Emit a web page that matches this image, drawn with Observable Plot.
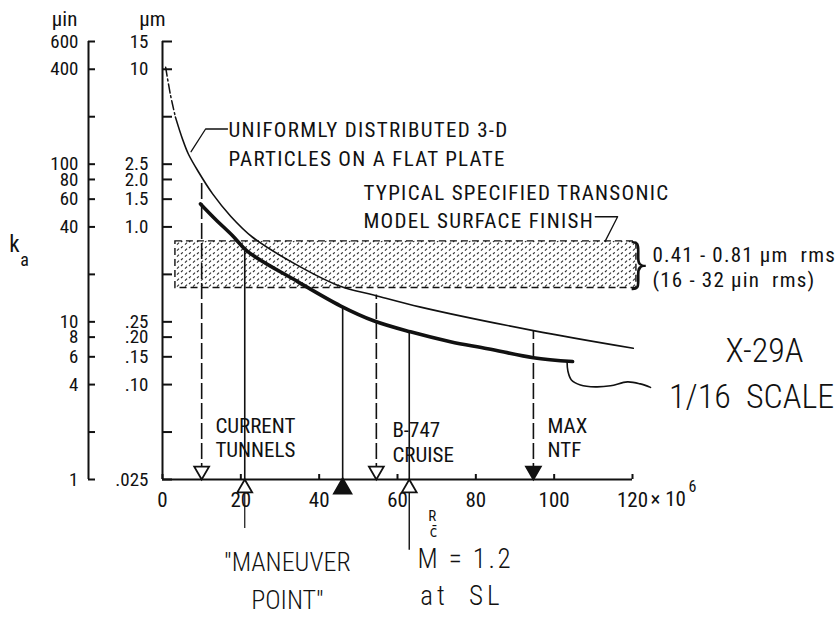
<!DOCTYPE html>
<html><head><meta charset="utf-8">
<script src="https://cdn.jsdelivr.net/npm/d3@7"></script>
<script src="https://cdn.jsdelivr.net/npm/@observablehq/plot@0.6"></script>
<style>
html,body{margin:0;padding:0;background:#fff;}
#chart svg{display:block;font-stretch:condensed;}
#chart svg text{font-stretch:condensed;}
#chart g[aria-description="uniform-note"] text{letter-spacing:1.3px;}
#chart g[aria-description="finish-note"] text{letter-spacing:1.3px;}
#chart g[aria-description="rms-note"] text{letter-spacing:1.2px;}
#chart g[aria-description="mach-note"] text{letter-spacing:2.5px;}
#chart g[aria-description="sl-note"] text{letter-spacing:4px;}
</style>
</head><body><div id="chart"></div>
<script>
// ---- data: admissible roughness k_a (µm) vs Reynolds number R_c (×10^6) ----
const flatPlateRe = [0.8, 2.0, 3.3, 5.1, 6.6, 9.2, 12.8, 17.4, 23.0, 34.5, 45.4, 53.9, 65.9, 94.7, 120.2];
const flatPlateKa = [10.3, 6.95, 4.97, 3.61, 2.90, 2.23, 1.62, 1.17, 0.86, 0.57, 0.42, 0.37, 0.31, 0.22, 0.17];
const x29Re = [9.7, 13.5, 17.9, 21.7, 34.5, 45.4, 53.9, 63.3, 73.5, 83.0, 94.7, 104.7];
const x29Ka = [1.40, 1.12, 0.88, 0.70, 0.45, 0.316, 0.254, 0.216, 0.187, 0.169, 0.148, 0.140];
const hookRe = [103.3, 103.5, 104.4, 106.7, 110.5, 114.4, 118.7, 122.0, 124.6];
const hookKa = [0.140, 0.122, 0.107, 0.0995, 0.0967, 0.0982, 0.104, 0.101, 0.096];

const markerRe    = [10, 21, 46, 54.6, 63, 94.7];
const markerKind  = ["tunnel", "flight", "flight", "tunnel", "flight", "tunnel"];
const markerFill  = [false, false, true, false, false, true];
const markerTopKa = [1.95, 0.70, 0.31, 0.37, 0.216, 0.22];

const finishBandUm = [0.41, 0.81];
const finishBandRe = [3.3, 121];

const umTicks  = [15, 10, 5, 2.5, 2, 1.5, 1, 0.5, 0.25, 0.2, 0.15, 0.1, 0.05, 0.025];
const umLabels = ["15", "10", "5", "2.5", "2.0", "1.5", "1.0", ".5", ".25", ".20", ".15", ".10", ".05", ".025"];
const uinTicks = [600, 400, 200, 100, 80, 60, 40, 20, 10, 8, 6, 4, 2, 1];
const UIN_PER_UM = 40;
const xTicks = [0, 20, 40, 60, 80, 100, 120];

const leaderUniform = [[7.3, 3.0], [11.0, 4.18], [16.6, 4.18]];
const leaderFinish  = [[110.5, 1.16], [116.2, 1.16], [113.0, 0.81]];

// ---- build tables ----
const flatPlate = flatPlateRe.map((re, i) => ({re, ka: flatPlateKa[i]}));
const x29 = x29Re.map((re, i) => ({re, ka: x29Ka[i]}));
const hook = hookRe.map((re, i) => ({re, ka: hookKa[i]}));
const markers = markerRe.map((re, i) => ({re, kind: markerKind[i], filled: markerFill[i], top: markerTopKa[i]}));
const umLabelMap = new Map(umTicks.map((t, i) => [t, umLabels[i]]));
const yMin = umTicks[umTicks.length - 1];

const font = 'Roboto, "DejaVu Sans Condensed", sans-serif';
const ink = "#111";

const svg = Plot.plot({
  width: 839, height: 622,
  marginLeft: 162, marginRight: 207, marginTop: 41, marginBottom: 143,
  style: {fontFamily: font, fontSize: "20px", color: ink, background: "#fff", overflow: "visible"},
  x: {domain: [0, 120]},
  y: {type: "log", domain: [yMin, 15]},
  marks: [
    // shaded surface-finish band
    Plot.rect([finishBandUm], {x1: finishBandRe[0], x2: finishBandRe[1], y1: d => d[0], y2: d => d[1],
      fill: "url(#stipple)", stroke: ink, strokeWidth: 1.4, strokeDasharray: "7,4"}),
    // drop lines
    Plot.ruleX(markers.filter(d => d.kind === "tunnel"), {x: "re", y1: yMin, y2: "top", stroke: ink, strokeWidth: 1.6, strokeDasharray: "16,4"}),
    Plot.ruleX(markers.filter(d => d.kind === "flight"), {x: "re", y1: yMin, y2: "top", stroke: ink, strokeWidth: 1.6}),
    Plot.ruleX([markers[1]], {x: "re", y1: yMin, y2: 0.0122, stroke: ink, strokeWidth: 1.2}),
    Plot.ruleX([markers[4]], {x: "re", y1: yMin, y2: 0.0089, stroke: ink, strokeWidth: 1.4}),
    // curves
    Plot.line(flatPlate.slice(0, 3), {x: "re", y: "ka", curve: "catmull-rom", stroke: ink, strokeWidth: 1.5, strokeDasharray: "9,3,2,3"}),
    Plot.line(flatPlate.slice(2), {x: "re", y: "ka", curve: "catmull-rom", stroke: ink, strokeWidth: 1.6}),
    Plot.line(x29, {x: "re", y: "ka", curve: "catmull-rom", stroke: ink, strokeWidth: 3.6}),
    Plot.line(hook, {x: "re", y: "ka", curve: "catmull-rom", stroke: ink, strokeWidth: 1.6}),
    // leaders
    Plot.line(leaderUniform, {x: d => d[0], y: d => d[1], stroke: ink, strokeWidth: 1.3}),
    Plot.line(leaderFinish, {x: d => d[0], y: d => d[1], stroke: ink, strokeWidth: 1.3}),
    // axis spines
    Plot.ruleX([0], {stroke: ink, strokeWidth: 2}),
    Plot.ruleX([0], {stroke: ink, strokeWidth: 2, dx: -74}),
    Plot.ruleY([yMin], {stroke: ink, strokeWidth: 2}),
    // axes
    Plot.axisY(umTicks, {anchor: "left", tickSize: -10, tickPadding: 24, strokeWidth: 2, label: null,
      tickFormat: d => umLabelMap.get(d), fontSize: 19}),
    Plot.axisY(uinTicks.map(v => v / UIN_PER_UM), {anchor: "left", dx: -74, tickSize: -7, tickPadding: 17, strokeWidth: 2, label: null,
      tickFormat: d => String(Math.round(d * UIN_PER_UM)), fontSize: 19}),
    Plot.axisX(xTicks, {anchor: "bottom", tickSize: -5, tickPadding: 18, strokeWidth: 2, label: null,
      tickFormat: d => String(d), fontSize: 21}),
    Plot.text(["× 10"], {x: 120, y: yMin, dx: 18, dy: 20, textAnchor: "start", fontSize: 21}),
    Plot.text(["6"], {x: 120, y: yMin, dx: 60, dy: 7, fontSize: 16}),
    // markers
    Plot.dot(markers.filter(d => d.kind === "tunnel"), {x: "re", y: yMin, symbol: "triangle", rotate: 180, r: 5.5, dy: -8.5,
      fill: d => d.filled ? ink : "#fff", stroke: ink, strokeWidth: 1.8}),
    Plot.dot(markers.filter(d => d.kind === "flight" && !d.filled), {x: "re", y: yMin, symbol: "triangle", r: 5.5, dy: 8.5,
      fill: "#fff", stroke: ink, strokeWidth: 1.8}),
    Plot.dot(markers.filter(d => d.kind === "flight" && d.filled), {x: "re", y: yMin, symbol: "triangle", r: 6.5, dy: 9,
      fill: ink, stroke: ink, strokeWidth: 1.8}),
    // axis titles
    Plot.text(["µin"], {x: -25, y: 20.8, fontSize: 21}),
    Plot.text(["µm"], {x: -2.55, y: 20.8, fontSize: 21}),
    Plot.text(["k"], {x: -37.8, y: 0.769, fontSize: 23}),
    Plot.text(["a"], {x: -35.2, y: 0.618, fontSize: 18}),
    // annotations
    Plot.text(["UNIFORMLY DISTRIBUTED 3-D\nPARTICLES ON A FLAT PLATE"], {x: 16.85, y: 3.43, textAnchor: "start", lineHeight: 1.38, fontSize: 21, ariaDescription: "uniform-note"}),
    Plot.text(["TYPICAL SPECIFIED TRANSONIC\nMODEL SURFACE FINISH"], {x: 51.3, y: 1.379, textAnchor: "start", lineHeight: 1.33, fontSize: 21, ariaDescription: "finish-note"}),
    Plot.text(["}"], {x: 121.8, y: 0.575, fontSize: 54, fontFamily: "DejaVu Sans", fontWeight: 200}),
    Plot.text(["0.41 - 0.81 µm\u00a0 rms\n(16 - 32 µin\u00a0 rms)"], {x: 125.1, y: 0.5617, textAnchor: "start", lineHeight: 1.2, fontSize: 21, ariaDescription: "rms-note"}),
    Plot.text(["CURRENT\nTUNNELS"], {x: 13.5, y: 0.0463, textAnchor: "start", lineHeight: 1.15, fontSize: 21}),
    Plot.text(["B-747\nCRUISE"], {x: 58.7, y: 0.0436, textAnchor: "start", lineHeight: 1.2, fontSize: 21}),
    Plot.text(["MAX\nNTF"], {x: 98.3, y: 0.0463, textAnchor: "start", lineHeight: 1.15, fontSize: 21}),
    Plot.text(["X-29A"], {x: 153.7, y: 0.1636, fontSize: 34, fontWeight: 300}),
    Plot.text(["1/16\u00a0 SCALE"], {x: 171.5, y: 0.0836, textAnchor: "end", fontSize: 34, fontWeight: 300}),
    Plot.text(["''MANEUVER\nPOINT''"], {x: 31.9, y: 0.00594, lineHeight: 1.45, fontSize: 26, fontWeight: 300}),
    Plot.text(["M = 1.2"], {x: 65.1, y: 0.00774, textAnchor: "start", fontSize: 27, fontWeight: 300, ariaDescription: "mach-note"}),
    Plot.text(["at\u00a0 SL"], {x: 65.8, y: 0.00451, textAnchor: "start", fontSize: 27, fontWeight: 300, ariaDescription: "sl-note"}),
    Plot.text(["R"], {x: 68.9, y: 0.0147, fontSize: 15}),
    Plot.text(["c\u0304"], {x: 69.2, y: 0.01164, fontSize: 15})
  ]
});

const defs = document.createElementNS("http://www.w3.org/2000/svg", "defs");
defs.innerHTML = '<pattern id="stipple" width="8" height="6" patternUnits="userSpaceOnUse">' +
  '<path d="M1,4.6 L3,2.6 M5,2 L6.8,0.4" stroke="#333" stroke-width="1.2" fill="none"/></pattern>';
svg.insertBefore(defs, svg.firstChild);
document.getElementById("chart").appendChild(svg);
</script>
</body></html>
